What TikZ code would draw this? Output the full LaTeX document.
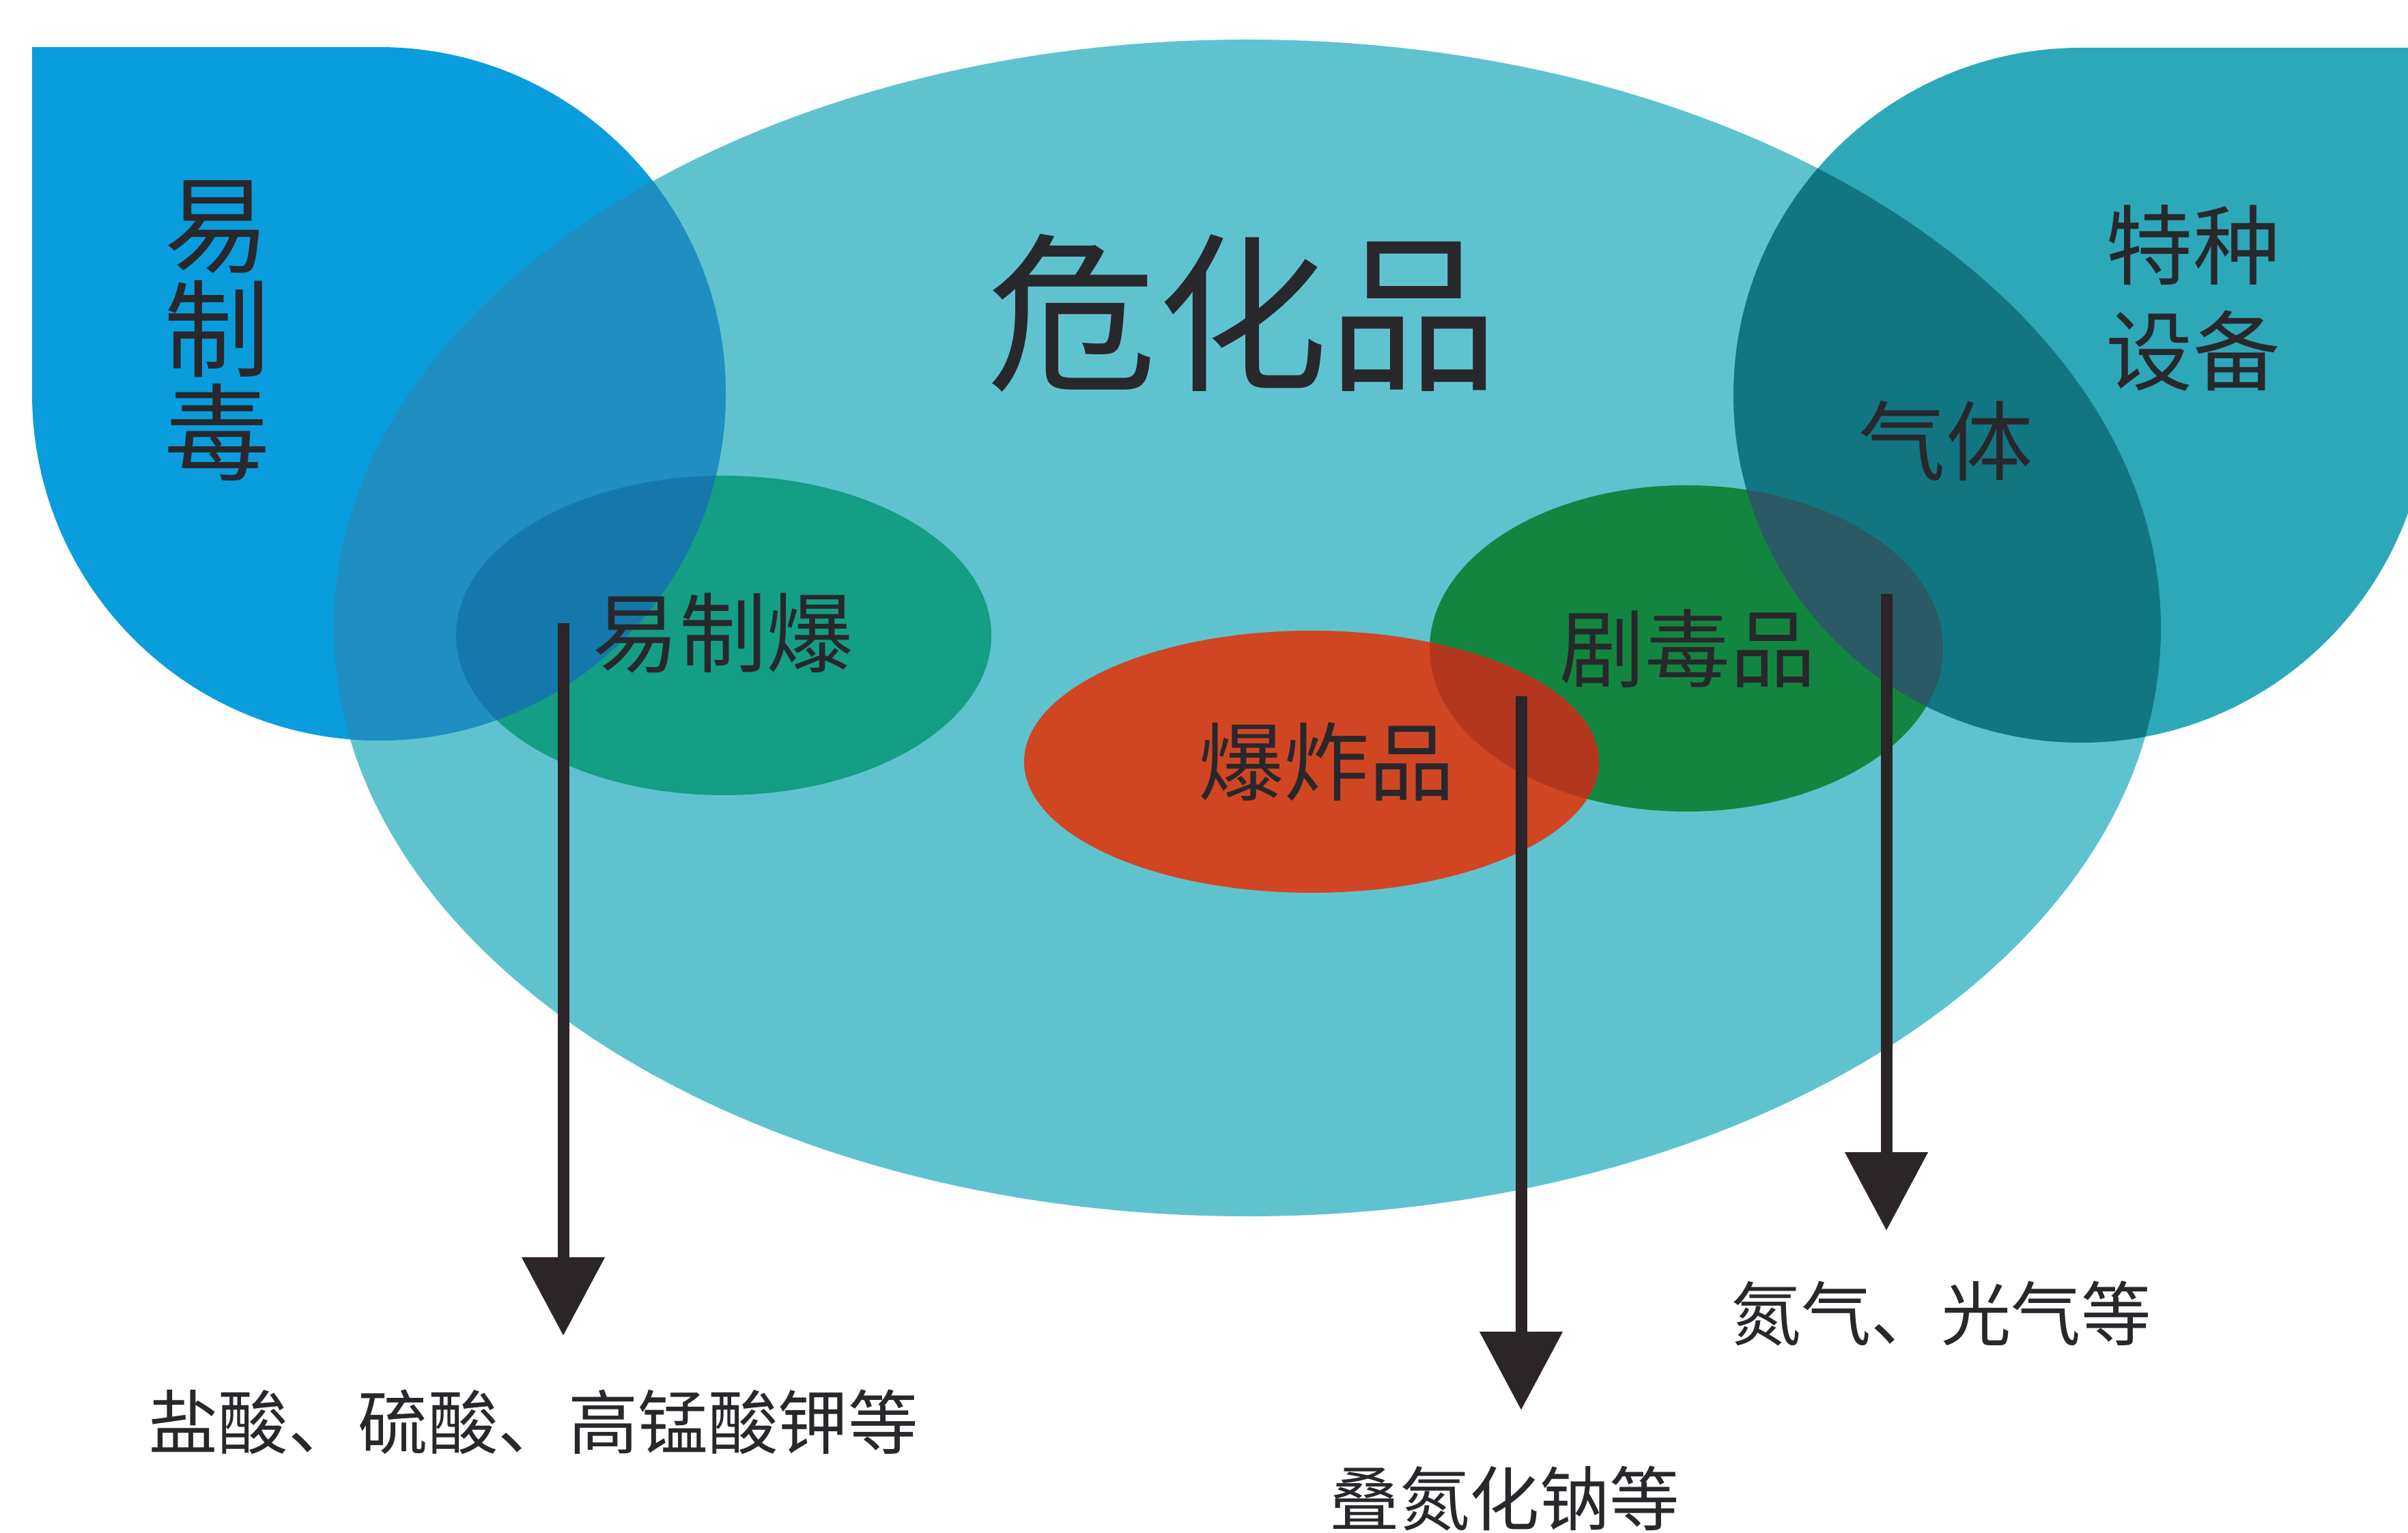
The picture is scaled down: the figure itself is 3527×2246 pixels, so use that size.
\documentclass[tikz,border=0pt]{standalone}
\usepackage{fontspec}
\setmainfont{Noto Sans CJK SC}
\usetikzlibrary{arrows.meta}
\definecolor{ellC}{RGB}{95,195,207}
\definecolor{leafL}{RGB}{10,157,222}
\definecolor{leafLE}{RGB}{30,143,192}
\definecolor{leafR}{RGB}{45,168,185}
\definecolor{leafRE}{RGB}{18,118,130}
\definecolor{yzbC}{RGB}{20,158,132}
\definecolor{yzbL}{RGB}{21,120,170}
\definecolor{jdpC}{RGB}{18,134,64}
\definecolor{jdpR}{RGB}{42,90,100}
\definecolor{bzpC}{RGB}{208,70,35}
\definecolor{bzpJ}{RGB}{178,55,30}
\definecolor{txtC}{RGB}{40,40,44}
\definecolor{arrC}{RGB}{43,37,39}
\begin{document}
\begin{tikzpicture}[x=0.2pt,y=-0.2pt,
  lbl/.style={inner sep=0pt, text=txtC, align=center},
  arr/.style={draw=arrC, line width=3.4pt, -{Triangle[length=23pt,width=23.5pt]}}]
\useasboundingbox (0,0) rectangle (3527,2246);
\fill[white] (0,0) rectangle (3527,2246);
\def\bigell{(1827,920) ellipse [x radius=1338, y radius=862]}
\def\lleaf{(47,69) -- (555,69) arc[start angle=-90, end angle=180, radius=508] -- cycle}
\def\rleaf{(3557,70) -- (3557,579) arc[start angle=0, end angle=270, radius=509] -- cycle}
\def\yzb{(1060,931) ellipse [x radius=392, y radius=234]}
\def\jdp{(2470,950) ellipse [x radius=376, y radius=239]}
\def\bzp{(1921,1116) ellipse [x radius=421, y radius=192]}
% big ellipse and leaves
\fill[ellC] \bigell;
\fill[leafL] \lleaf;
\fill[leafR] \rleaf;
\begin{scope}\clip \lleaf; \fill[leafLE] \bigell; \end{scope}
\begin{scope}\clip \rleaf; \fill[leafRE] \bigell; \end{scope}
% inner ellipses
\fill[yzbC] \yzb;
\begin{scope}\clip \lleaf; \fill[yzbL] \yzb; \end{scope}
\fill[jdpC] \jdp;
\begin{scope}\clip \rleaf; \fill[jdpR] \jdp; \end{scope}
\fill[bzpC] \bzp;
\begin{scope}\clip \jdp; \fill[bzpJ] \bzp; \end{scope}
% texts
\node[lbl, font=\fontsize{50}{50}\selectfont] (whp) at (1820,459) {危化品};
\node[lbl, font=\fontsize{31}{30.5}\selectfont] (yzd) at (318,485) {易\\制\\毒};
\node[lbl, font=\fontsize{25.5}{31}\selectfont] (tzsb) at (3212,437) {特种\\设备};
\node[lbl, font=\fontsize{25.5}{25.5}\selectfont] (qt) at (2850,646) {气体};
\node[lbl, font=\fontsize{25.5}{25.5}\selectfont] (yzbT) at (1059,928) {易制爆};
\node[lbl, font=\fontsize{25}{25}\selectfont] (jdpT) at (2472,950) {剧毒品};
\node[lbl, font=\fontsize{25}{25}\selectfont] (bzpT) at (1943,1116) {爆炸品};
\node[lbl, font=\fontsize{20.5}{20.5}\selectfont] (ex1) at (781,2083) {盐酸、硫酸、高锰酸钾等};
\node[lbl, font=\fontsize{20.5}{20.5}\selectfont] (ex2) at (2204,2195) {叠氮化钠等};
\node[lbl, font=\fontsize{20.5}{20.5}\selectfont] (ex3) at (2843,1924) {氮气、光气等};
% arrows
\coordinate (a1s) at (825,913);
\coordinate (a1e) at (825,1957);
\coordinate (a2s) at (2228,1020);
\coordinate (a2e) at (2228,2066);
\coordinate (a3s) at (2763,870);
\coordinate (a3e) at (2763,1803);
\draw[arr] (a1s) -- (a1e);
\draw[arr] (a2s) -- (a2e);
\draw[arr] (a3s) -- (a3e);
\end{tikzpicture}
\end{document}
